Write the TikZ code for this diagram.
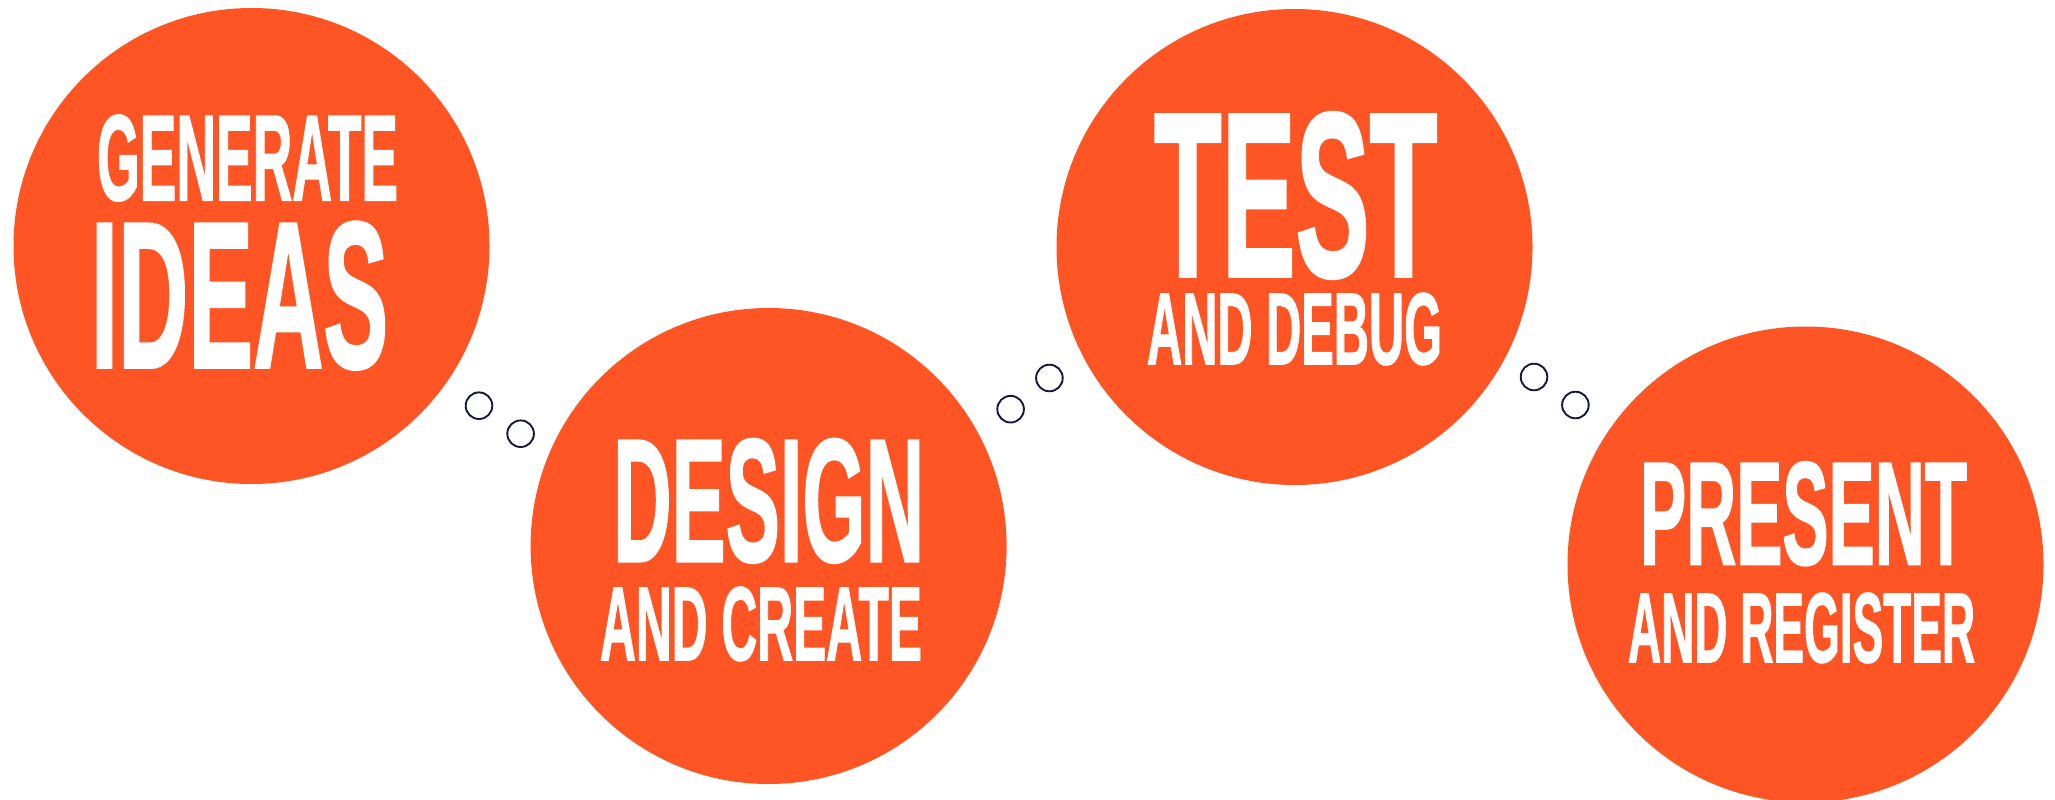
\documentclass[tikz,border=0pt]{standalone}
\usepackage{fontspec}
\usepackage{graphicx}
\setmainfont{Liberation Sans}
\newfontfamily\headface{Liberation Sans Bold}[FakeBold=1.6]
\definecolor{bubbleorange}{RGB}{255,84,36}
\definecolor{puffnavy}{RGB}{22,22,64}
% set a word in heavy capitals, stretched to a given width and cap height
\newcommand{\capword}[3]{\resizebox{#1pt}{#2pt}{\headface #3}}

\begin{document}
\begin{tikzpicture}[x=1pt,y=-1pt,
  bubble/.style={circle, fill=bubbleorange, minimum size=476pt, inner sep=0pt},
  puff/.style={circle, draw=puffnavy, line width=1.9pt, minimum size=26.6pt, inner sep=0pt},
  word/.style={text=white, inner sep=0pt, outer sep=0pt, anchor=north west}]
\useasboundingbox (0,0) rectangle (2055,800);

% the four steps
\node[bubble] (ideas)   at (251.5,246)  {};
\node[bubble] (design)  at (768.6,546)  {};
\node[bubble] (test)    at (1294.5,247) {};
\node[bubble] (present) at (1805.5,564.5) {};

% thought-bubble puffs between the steps
\node[puff] (p1a) at (479,405.7)  {};
\node[puff] (p1b) at (520.6,433.7) {};
\node[puff] (p2a) at (1010.6,409.2) {};
\node[puff] (p2b) at (1049.4,378)  {};
\node[puff] (p3a) at (1534,377)   {};
\node[puff] (p3b) at (1575.4,405)  {};

% labels
\node[word] (ideasA)   at (97,115)    {\capword{301}{85}{GENERATE}};
\node[word] (ideasB)   at (91,222)    {\capword{297}{145}{IDEAS}};
\node[word] (designA)  at (613,439)   {\capword{311}{122}{DESIGN}};
\node[word] (designB)  at (600,587)   {\capword{322}{73}{AND CREATE}};
\node[word] (testA)    at (1154,112.7) {\capword{283}{163}{TEST}};
\node[word] (testB)    at (1147,293)  {\capword{295}{71}{AND DEBUG}};
\node[word] (presentA) at (1640,462)  {\capword{327}{102}{PRESENT}};
\node[word] (presentB) at (1628,593)  {\capword{347}{69}{AND REGISTER}};
\end{tikzpicture}
\end{document}
